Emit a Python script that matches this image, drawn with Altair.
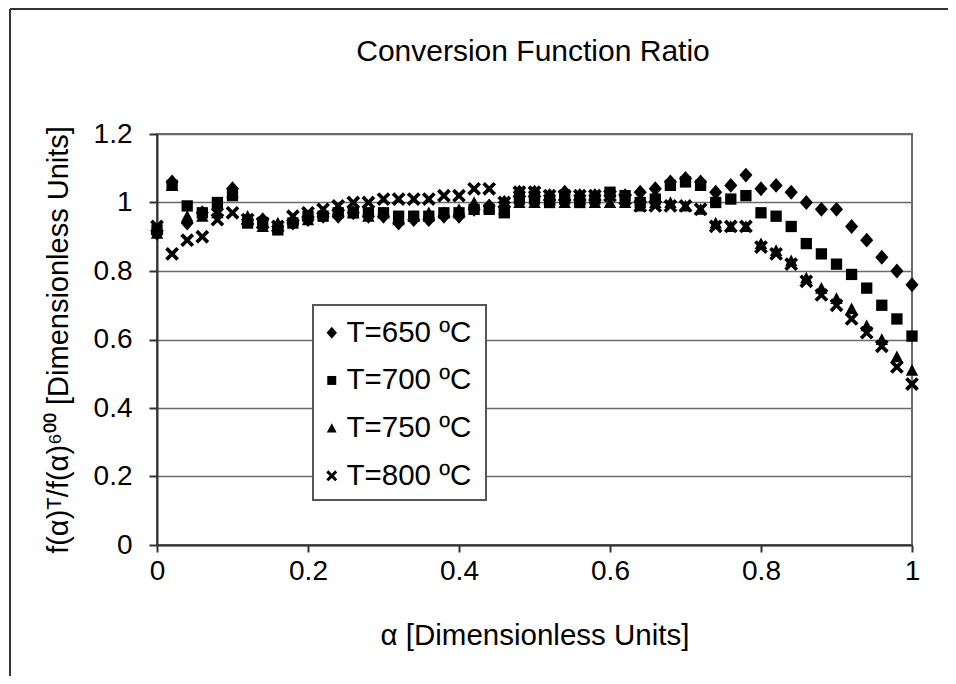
import altair as alt
import pandas as pd

# ---- data ----
alpha = [round(i * 0.02, 2) for i in range(51)]

t650 = [0.91, 1.06, 0.94, 0.97, 0.98, 1.04, 0.95, 0.95, 0.93, 0.94,
        0.95, 0.96, 0.96, 0.97, 0.96, 0.96, 0.94, 0.95, 0.95, 0.96,
        0.96, 0.98, 0.99, 1.00, 1.03, 1.03, 1.02, 1.03, 1.02, 1.02,
        1.02, 1.02, 1.03, 1.04, 1.06, 1.07, 1.06, 1.03, 1.05, 1.08,
        1.04, 1.05, 1.03, 1.00, 0.98, 0.98, 0.93, 0.89, 0.84, 0.80,
        0.76]
t700 = [0.92, 1.05, 0.99, 0.97, 1.00, 1.02, 0.94, 0.94, 0.92, 0.94,
        0.96, 0.96, 0.97, 0.97, 0.97, 0.97, 0.96, 0.96, 0.96, 0.97,
        0.97, 0.98, 0.98, 0.97, 1.01, 1.01, 1.00, 1.01, 1.00, 1.01,
        1.03, 1.02, 1.00, 1.01, 1.05, 1.06, 1.05, 1.00, 1.01, 1.02,
        0.97, 0.96, 0.93, 0.88, 0.85, 0.82, 0.79, 0.75, 0.70, 0.66,
        0.61]
t750 = [0.91, 1.05, 0.96, 0.96, 0.97, 1.03, 0.96, 0.93, 0.94, 0.95,
        0.95, 0.97, 0.98, 0.97, 0.96, 0.97, 0.95, 0.96, 0.97, 0.97,
        0.98, 1.00, 0.99, 0.98, 1.00, 1.00, 1.01, 1.00, 1.01, 1.00,
        1.00, 1.00, 0.99, 1.00, 1.00, 0.99, 0.98, 0.94, 0.93, 0.93,
        0.88, 0.86, 0.83, 0.78, 0.75, 0.72, 0.69, 0.64, 0.60, 0.55,
        0.51]
t800 = [0.93, 0.85, 0.89, 0.90, 0.95, 0.97, 0.95, 0.94, 0.93, 0.96,
        0.97, 0.98, 0.99, 1.00, 1.00, 1.01, 1.01, 1.01, 1.01, 1.02,
        1.02, 1.04, 1.04, 1.00, 1.03, 1.03, 1.02, 1.02, 1.02, 1.02,
        1.02, 1.01, 0.99, 0.99, 0.99, 0.99, 0.98, 0.93, 0.93, 0.93,
        0.87, 0.85, 0.82, 0.77, 0.73, 0.70, 0.66, 0.62, 0.58, 0.52,
        0.47]

series_labels = ["T=650 ºC", "T=700 ºC", "T=750 ºC", "T=800 ºC"]
x_ticks = [0, 0.2, 0.4, 0.6, 0.8, 1]
y_ticks = [0, 0.2, 0.4, 0.6, 0.8, 1, 1.2]

chart_title = "Conversion Function Ratio"
x_title = "α [Dimensionless Units]"
y_title = "f(α)ᵀ/f(α)⁶⁰⁰ [Dimensionless Units]"

rows = []
for lab, vals in zip(series_labels, [t650, t700, t750, t800]):
    for a, v in zip(alpha, vals):
        rows.append({"alpha": a, "ratio": v, "series": lab})
df = pd.DataFrame(rows)

FONT = "Liberation Sans"
DIAMOND = "M0,-1.08L0.95,0L0,1.08L-0.95,0Z"
SQUARE = "M-0.82,-0.82L0.82,-0.82L0.82,0.82L-0.82,0.82Z"
TRIANGLE = "M0,-0.9L0.9,0.8L-0.9,0.8Z"
X_PATH = ("M-1,-0.62L-0.62,-1L0,-0.38L0.62,-1L1,-0.62L0.38,0L1,0.62"
          "L0.62,1L0,0.38L-0.62,1L-1,0.62L-0.38,0Z")

frame_df = pd.DataFrame({"k": [0]})

# legend box (drawn under the legend entries, above the grid)
legend_box = alt.Chart(frame_df).mark_rect(
    fill="white", stroke="#555", strokeWidth=2
).encode(x=alt.value(156), x2=alt.value(329), y=alt.value(171), y2=alt.value(366))

points = alt.Chart(df).mark_point(filled=True, opacity=1, color="black", size=190).encode(
    x=alt.X("alpha:Q",
            scale=alt.Scale(domain=[0, 1], nice=False, zero=False),
            axis=alt.Axis(values=x_ticks, format="~g", title=x_title, grid=False,
                          labelFlush=False,
                          labelFontSize=28, labelPadding=5, tickSize=7,
                          titleFontSize=29.5, titleFontWeight="normal",
                          titleBaseline="alphabetic", titleY=99,
                          titleColor="black", labelColor="black")),
    y=alt.Y("ratio:Q",
            scale=alt.Scale(domain=[0, 1.2], nice=False),
            axis=alt.Axis(values=y_ticks, format="~g", title=y_title, grid=True,
                          gridColor="#6a6a6a", gridWidth=1.6, labelFlush=False,
                          labelFontSize=28, labelPadding=17, tickSize=8,
                          titleFontSize=29, titleFontWeight="normal",
                          titleAngle=270, titleBaseline="middle", titleAlign="center",
                          titleX=-99, titleY=205.5,
                          titleColor="black", labelColor="black")),
    shape=alt.Shape("series:N",
                    scale=alt.Scale(domain=series_labels,
                                    range=[DIAMOND, SQUARE, TRIANGLE, X_PATH]),
                    legend=alt.Legend(title=None, orient="none", legendX=160, legendY=184,
                                      padding=0, rowPadding=16.7, labelOffset=0,
                                      labelFontSize=29.5, labelColor="black",
                                      symbolSize=120, symbolFillColor="black",
                                      symbolStrokeWidth=0)),
)

left_border = alt.Chart(frame_df).mark_rule(color="#333", strokeWidth=2).encode(
    x=alt.value(-147), y=alt.value(-125), y2=alt.value(700))
top_border = alt.Chart(frame_df).mark_rule(color="#333", strokeWidth=2).encode(
    x=alt.value(-147), x2=alt.value(900), y=alt.value(-125))
title_text = alt.Chart(frame_df).mark_text(
    text=chart_title, fontSize=30, font=FONT, color="black",
    align="center", baseline="alphabetic"
).encode(x=alt.value(376), y=alt.value(-73))

chart = alt.layer(legend_box, points, left_border, top_border, title_text).properties(
    width=755, height=411,
    padding={"left": 149, "top": 126, "right": 36, "bottom": 131},
    autosize=alt.AutoSizeParams(type="none"),
).configure(font=FONT).configure_view(
    stroke="#6a6a6a", strokeWidth=2
).configure_axis(
    domainColor="#333", domainWidth=2, tickColor="#333", tickWidth=2,
    labelFont=FONT, titleFont=FONT
).configure_legend(labelFont=FONT)

chart.save("out.html", embed_options={"renderer": "svg", "actions": False})
